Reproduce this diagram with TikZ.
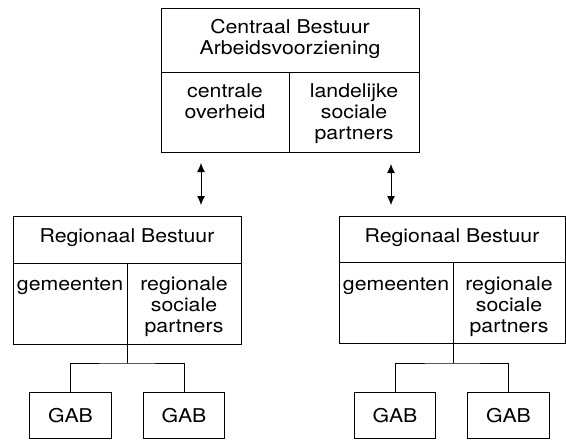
\documentclass[tikz,border=0pt]{standalone}
\usepackage{fontspec}
\setmainfont[FakeStretch=1.12]{TeX Gyre Heros}
\usetikzlibrary{arrows.meta}
\tikzset{
  cell/.style={draw, line width=0.9pt, inner sep=0pt, anchor=north west},
  txt/.style={anchor=base, inner sep=0pt, font=\fontsize{19}{21}\selectfont},
  link/.style={line width=0.7pt},
  dbl/.style={line width=0.9pt, {Latex[length=9pt,width=8pt]}-{Latex[length=9pt,width=8pt]}}
}
\newcommand{\ml}[1]{\begin{tabular}[t]{@{}c@{}}#1\end{tabular}}
\begin{document}
\begin{tikzpicture}[x=1pt,y=-1pt]
\useasboundingbox (0,0) rectangle (566,440);
% central box
\node[cell, minimum width=258pt, minimum height=64pt] (ch) at (161,8) {};
\node[cell, minimum width=128pt, minimum height=80pt] (cl) at (161,72) {};
\node[cell, minimum width=130pt, minimum height=80pt] (cr) at (289,72) {};
\node[txt] (cht) at (290,33) {\ml{Centraal Bestuur\\Arbeidsvoorziening}};
\node[txt] (clt) at (225,97) {\ml{centrale\\overheid}};
\node[txt] (crt) at (354,97) {\ml{landelijke\\sociale\\partners}};
% arrows
\coordinate (a1t) at (201,163); \coordinate (a1b) at (201,205);
\coordinate (a2t) at (391,164); \coordinate (a2b) at (391,205);
\draw[dbl] (a1t) -- (a1b);
\draw[dbl] (a2t) -- (a2b);
% left regional
\node[cell, minimum width=228pt, minimum height=47pt] (lh) at (13,216) {};
\node[cell, minimum width=114pt, minimum height=81pt] (ll) at (13,263) {};
\node[cell, minimum width=114pt, minimum height=81pt] (lr) at (127,263) {};
\node[txt] (lht) at (127,242) {Regionaal Bestuur};
\node[txt] (llt) at (70,290) {gemeenten};
\node[txt] (lrt) at (184,290) {\ml{regionale\\sociale\\partners}};
% right regional
\node[cell, minimum width=226pt, minimum height=46pt] (rh) at (339,216) {};
\node[cell, minimum width=114pt, minimum height=81pt] (rl) at (339,262) {};
\node[cell, minimum width=112pt, minimum height=81pt] (rr) at (453,262) {};
\node[txt] (rht) at (452,242) {Regionaal Bestuur};
\node[txt] (rlt) at (396,290) {gemeenten};
\node[txt] (rrt) at (509,290) {\ml{regionale\\sociale\\partners}};
% GAB boxes
\node[cell, minimum width=82pt, minimum height=46pt] (g1) at (29,392) {};
\node[cell, minimum width=81pt, minimum height=46pt] (g2) at (143,392) {};
\node[cell, minimum width=81pt, minimum height=46pt] (g3) at (354,392) {};
\node[cell, minimum width=82pt, minimum height=46pt] (g4) at (467,392) {};
\node[txt] (g1t) at (g1.center) [yshift=-7pt] {GAB};
\node[txt] (g2t) at (g2.center) [yshift=-7pt] {GAB};
\node[txt] (g3t) at (g3.center) [yshift=-7pt] {GAB};
\node[txt] (g4t) at (g4.center) [yshift=-7pt] {GAB};
% tree connectors
\coordinate (j1) at (127,363);
\coordinate (j2) at (453,363);
\draw[link] (lr.south west) -- (j1);
\draw[link] (g1.north) |- (j1) -| (g2.north);
\draw[link] (rr.south west) -- (j2);
\draw[link] (g3.north) |- (j2) -| (g4.north);
\end{tikzpicture}
\end{document}
